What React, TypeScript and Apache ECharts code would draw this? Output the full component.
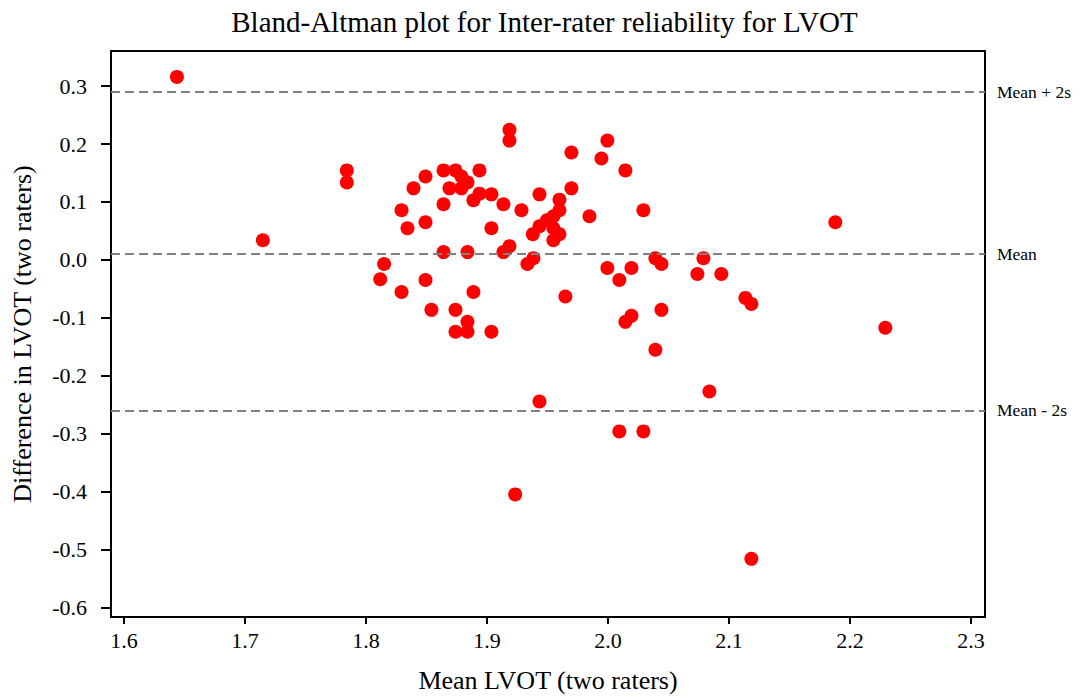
import React, { useEffect, useRef } from "react";
import * as echarts from "echarts";

const TITLE = "Bland-Altman plot for Inter-rater reliability for LVOT";
const X_NAME = "Mean LVOT (two raters)";
const Y_NAME = "Difference in LVOT (two raters)";

const X_TICKS = [1.6, 1.7, 1.8, 1.9, 2.0, 2.1, 2.2, 2.3];
const Y_TICKS = [-0.6, -0.5, -0.4, -0.3, -0.2, -0.1, 0.0, 0.1, 0.2, 0.3];

// Mean of the two raters
const MEAN_LVOT = [
  1.6438, 1.7842, 1.7842, 1.7148,
  1.9186, 1.9186, 1.9698, 1.9995, 1.9946, 2.0144,
  1.8641, 1.874, 1.8938, 1.8492, 1.8789, 1.8393, 1.869, 1.8789, 1.8839,
  1.8938, 1.8888, 1.9037, 1.9136, 1.8641, 1.8294, 1.9285, 1.9434, 1.9698,
  1.9599, 1.9599, 1.9847, 2.0293, 1.8343, 1.8492, 1.9037,
  1.9549, 1.9495, 1.9434, 1.9379, 1.9549, 1.9599, 1.9549,
  1.8641, 1.8839, 1.9136, 1.9186, 1.9384, 1.9334, 1.815,
  1.8492, 1.8294, 1.8888, 1.9648, 1.9995, 2.0094, 2.0194, 2.0392, 2.0442,
  1.8118, 1.8541, 1.874, 1.8839, 1.874, 1.8839, 1.9037,
  2.0442, 2.0194, 2.0144, 2.0392, 1.9434,
  2.1879, 2.0789, 2.0739, 2.0937, 2.1136, 2.1185,
  2.0094, 2.0293, 2.0838, 2.2292, 2.1185, 1.9233,
];

// Difference between the two raters
const DIFF_LVOT = [
  0.316, 0.1545, 0.1338, 0.034,
  0.2245, 0.206, 0.1854, 0.206, 0.175, 0.1545,
  0.1545, 0.1545, 0.1545, 0.144, 0.144, 0.1235, 0.1235, 0.1235, 0.1338,
  0.1144, 0.1029, 0.1132, 0.096, 0.096, 0.0857, 0.0857, 0.1132, 0.1235,
  0.104, 0.0857, 0.0754, 0.0857, 0.0547, 0.065, 0.0547,
  0.0754, 0.0685, 0.058, 0.0444, 0.0547, 0.0444, 0.034,
  0.0134, 0.0134, 0.0134, 0.0237, 0.003, -0.0072, -0.0072,
  -0.0347, -0.0554, -0.0554, -0.0633, -0.0141, -0.0347, -0.0141, 0.003, -0.0072,
  -0.0335, -0.0863, -0.0863, -0.107, -0.1242, -0.1242, -0.1242,
  -0.0863, -0.0967, -0.107, -0.1551, -0.2446,
  0.065, 0.003, -0.0244, -0.0244, -0.0657, -0.076,
  -0.2962, -0.2962, -0.2274, -0.1173, -0.5163, -0.405,
];

const REF_NAMES = ["Mean + 2s", "Mean", "Mean - 2s"];
const REF_VALUES = [0.2897, 0.0146, -0.2606];

const FONT = "'Liberation Serif', 'Times New Roman', serif";

export default function App() {
  const ref = useRef<HTMLDivElement>(null);

  useEffect(() => {
    if (!ref.current) return;
    const chart = echarts.init(ref.current, null, { renderer: "svg" });
    const points = MEAN_LVOT.map((x, i) => [x, DIFF_LVOT[i]]);
    chart.setOption({
      animation: false,
      backgroundColor: "#fff",
      textStyle: { fontFamily: FONT },
      title: {
        text: TITLE,
        left: "center",
        top: 2,
        textStyle: { fontFamily: FONT, fontSize: 29, fontWeight: "normal", color: "#000" },
      },
      grid: {
        left: 111,
        right: 104,
        top: 51,
        bottom: 79,
        show: true,
        borderColor: "#000",
        borderWidth: 2,
        backgroundColor: "transparent",
      },
      xAxis: {
        type: "value",
        min: 1.5893,
        max: 2.3116,
        name: X_NAME,
        nameLocation: "middle",
        nameGap: 50,
        nameTextStyle: { fontFamily: FONT, fontSize: 26, color: "#000" },
        axisLine: { show: true, onZero: false, lineStyle: { color: "#000", width: 2 } },
        axisTick: { show: true, inside: false, length: 7, customValues: X_TICKS, lineStyle: { color: "#000", width: 2 } },
        axisLabel: {
          customValues: X_TICKS,
          formatter: (v: number) => v.toFixed(1),
          fontFamily: FONT,
          fontSize: 22,
          color: "#000",
          margin: 12,
        },
        splitLine: { show: false },
      },
      yAxis: {
        type: "value",
        min: -0.6167,
        max: 0.3607,
        name: Y_NAME,
        nameLocation: "middle",
        nameGap: 76,
        nameRotate: 90,
        nameTextStyle: { fontFamily: FONT, fontSize: 26, color: "#000" },
        axisLine: { show: true, onZero: false, lineStyle: { color: "#000", width: 2 } },
        axisTick: { show: true, inside: false, length: 10, customValues: Y_TICKS, lineStyle: { color: "#000", width: 2 } },
        axisLabel: {
          customValues: Y_TICKS,
          formatter: (v: number) => (Math.abs(v) < 1e-9 ? "0.0" : v.toFixed(1)),
          fontFamily: FONT,
          fontSize: 22,
          color: "#000",
          margin: 24,
        },
        splitLine: { show: false },
      },
      series: [
        {
          type: "scatter",
          data: points,
          symbol: "circle",
          symbolSize: 14,
          itemStyle: { color: "#ff0000", opacity: 1 },
          silent: true,
          markLine: {
            silent: true,
            symbol: "none",
            lineStyle: { type: [9, 5], color: "#808080", width: 2 },
            label: {
              show: true,
              position: "end",
              formatter: "{b}",
              color: "#000",
              fontFamily: FONT,
              fontSize: 17.5,
              distance: 12,
            },
            emphasis: { disabled: true },
            data: REF_NAMES.map((n, i) => ({ name: n, yAxis: REF_VALUES[i] })),
          },
        },
      ],
    });
    return () => chart.dispose();
  }, []);

  return (
    <div
      ref={ref}
      style={{ position: "fixed", left: 0, top: 0, width: 1089, height: 698, background: "#fff" }}
    />
  );
}
